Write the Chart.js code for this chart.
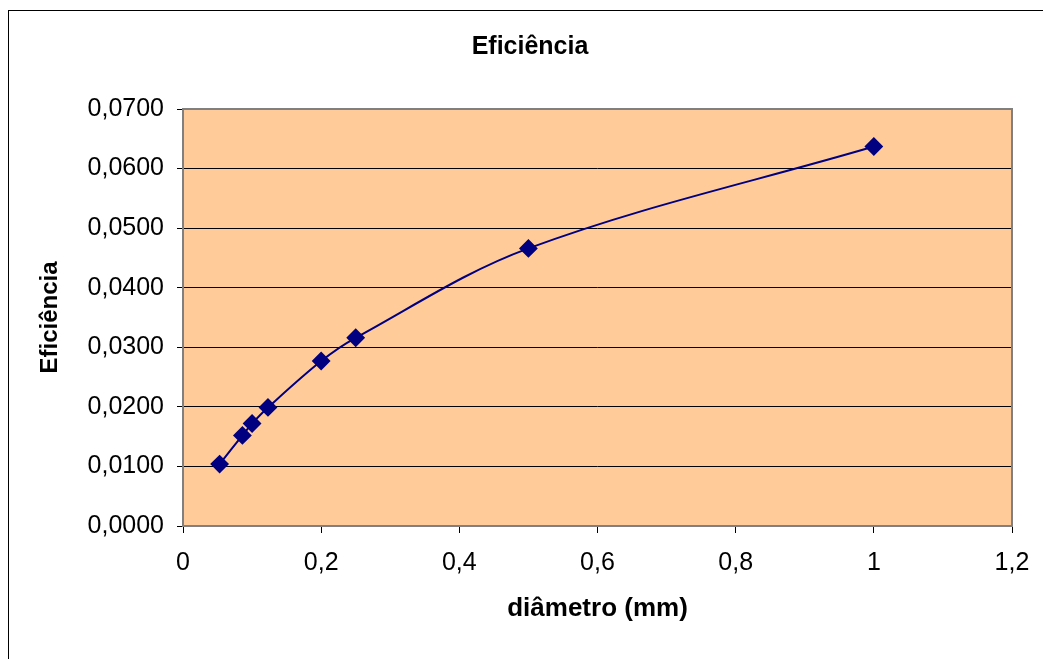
<!DOCTYPE html>
<html>
<head>
<meta charset="utf-8">
<script src="https://cdn.jsdelivr.net/npm/chart.js@4"></script>
<style>
  html, body { margin: 0; padding: 0; background: #fff; overflow: hidden; }
  canvas { display: block; }
</style>
</head>
<body>
<canvas id="myChart" width="1061" height="659"></canvas>
<script>
// diâmetro (mm) vs eficiência
const diametros = [0.053, 0.086, 0.1, 0.123, 0.2, 0.25, 0.5, 1.0];
const eficiencias = [0.0104, 0.0152, 0.0172, 0.0199, 0.0277, 0.0316, 0.0466, 0.0637];
const xTicks = [0, 0.2, 0.4, 0.6, 0.8, 1.0, 1.2];
const yTicks = [0, 0.01, 0.02, 0.03, 0.04, 0.05, 0.06, 0.07];

const fontFamily = '"Liberation Sans", Arial, sans-serif';
const virgula = s => s.replace('.', ',');

// fundo da área do gráfico, borda cinza e moldura externa
const plotArea = {
    id: 'plotArea',
    beforeDraw(chart) {
        const { ctx, chartArea: a } = chart;
        ctx.save();
        ctx.fillStyle = '#FFCC99';
        ctx.fillRect(a.left, a.top, a.right - a.left, a.bottom - a.top);
        ctx.strokeStyle = '#000';
        ctx.lineWidth = 1;
        ctx.strokeRect(8.5, 10.5, 1200, 800);
        ctx.restore();
    },
    beforeDatasetsDraw(chart) {
        const { ctx, chartArea: a } = chart;
        ctx.save();
        ctx.strokeStyle = '#808080';
        ctx.lineWidth = 2;
        ctx.strokeRect(a.left, a.top, a.right - a.left, a.bottom - a.top);
        ctx.restore();
    }
};

let ctx = document.getElementById('myChart').getContext('2d');
new Chart(ctx, {
    type: 'line',
    data: {
        datasets: [{
            label: 'Eficiência',
            data: diametros.map((d, i) => ({ x: d, y: eficiencias[i] })),
            borderColor: '#000080',
            backgroundColor: '#000080',
            borderWidth: 2,
            pointStyle: 'rectRot',
            pointRadius: 8,
            pointHoverRadius: 8,
            tension: 0.35,
            fill: false
        }]
    },
    options: {
        responsive: false,
        animation: false,
        layout: { padding: { left: 48, right: 49, top: 0, bottom: 0 } },
        plugins: {
            legend: { display: false },
            tooltip: { enabled: false },
            title: {
                display: true,
                text: 'Eficiência',
                color: '#000',
                font: { family: fontFamily, size: 25, weight: 'bold' },
                padding: { top: 32, bottom: 47 }
            }
        },
        scales: {
            x: {
                type: 'linear',
                min: 0,
                max: 1.2,
                afterBuildTicks: scale => { scale.ticks = xTicks.map(v => ({ value: v })); },
                afterFit: scale => { scale.height = 133; },
                border: { display: false },
                grid: { drawOnChartArea: false, drawTicks: true, tickLength: 7, color: '#000' },
                ticks: {
                    color: '#000',
                    padding: 15,
                    maxRotation: 0,
                    font: { family: fontFamily, size: 25 },
                    callback: v => virgula(String(parseFloat(v.toFixed(1))))
                },
                title: {
                    display: true,
                    text: 'diâmetro (mm)',
                    color: '#000',
                    font: { family: fontFamily, size: 26, weight: 'bold' },
                    padding: { top: 0, bottom: 35 }
                }
            },
            y: {
                min: 0,
                max: 0.07,
                afterBuildTicks: scale => { scale.ticks = yTicks.map(v => ({ value: v })); },
                afterFit: scale => { scale.width = 135; },
                border: { display: false },
                grid: { color: '#000', lineWidth: 1, tickLength: 6 },
                ticks: {
                    color: '#000',
                    padding: 13,
                    font: { family: fontFamily, size: 25 },
                    callback: v => virgula(v.toFixed(4))
                },
                title: {
                    display: true,
                    text: 'Eficiência',
                    color: '#000',
                    font: { family: fontFamily, size: 24, weight: 'bold' },
                    padding: { top: -12, bottom: 0 }
                }
            }
        }
    },
    plugins: [plotArea]
});
</script>
</body>
</html>
